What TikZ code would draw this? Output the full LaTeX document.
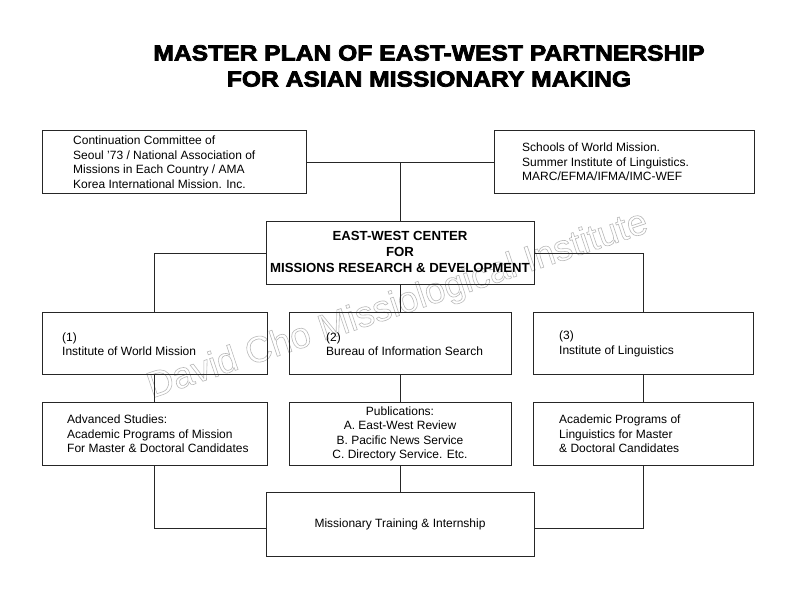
\documentclass[tikz,border=0pt]{standalone}
\usepackage{fontspec}
\setmainfont{Liberation Sans}
\newfontface\titlefont{Liberation Sans Bold}[FakeBold=3.5,FakeStretch=1.12]
\begin{document}
\begin{tikzpicture}[x=1pt,y=-1pt,
  box/.style={draw=black!85,line width=0.9pt},
  txt/.style={font=\fontsize{12}{14.5}\selectfont,align=left,anchor=west,inner sep=0pt},
  ctxt/.style={font=\fontsize{12}{14.5}\selectfont,align=center,inner sep=0pt},
  link/.style={draw=black!85,line width=0.9pt}]
\useasboundingbox (0,0) rectangle (800,600);
% watermark
\node[rotate=18.5,text=black!28,font=\fontsize{36.5}{36.5}\selectfont] (wm) at (398,306) {\special{pdf:literal direct 1 Tr 0.6 w}David Cho Missiological Institute\special{pdf:literal direct 0 Tr}};
% title
\node[font=\fontsize{22}{26}\titlefont,align=center,inner sep=0pt] (title) at (429,66) {MASTER PLAN OF EAST-WEST PARTNERSHIP\\FOR ASIAN MISSIONARY MAKING};
% boxes
\node[box,minimum width=264,minimum height=63,inner sep=0] (tl) at (174,161.5) {};
\node[box,minimum width=260,minimum height=63,inner sep=0] (tr) at (624,161.5) {};
\node[box,minimum width=268,minimum height=63,inner sep=0] (c) at (400,252.5) {};
\node[box,minimum width=225,minimum height=62,inner sep=0] (b1) at (154.5,343) {};
\node[box,minimum width=222,minimum height=62,inner sep=0] (b2) at (400,343) {};
\node[box,minimum width=220,minimum height=62,inner sep=0] (b3) at (643,343) {};
\node[box,minimum width=225,minimum height=63,inner sep=0] (d1) at (154.5,433.5) {};
\node[box,minimum width=222,minimum height=63,inner sep=0] (d2) at (400,433.5) {};
\node[box,minimum width=220,minimum height=63,inner sep=0] (d3) at (643,433.5) {};
\node[box,minimum width=268,minimum height=64,inner sep=0] (e) at (400,524) {};
% texts
\node[txt] (tlt) at (73,162) {Continuation Committee of\\Seoul '73 / National Association of\\Missions in Each Country / AMA\\Korea International Mission. Inc.};
\node[txt] (trt) at (522,162) {Schools of World Mission.\\Summer Institute of Linguistics.\\MARC/EFMA/IFMA/IMC-WEF};
\node[ctxt,font=\fontsize{13.2}{16}\selectfont\bfseries] (ct) at (400,252) {EAST-WEST CENTER\\FOR\\MISSIONS RESEARCH \& DEVELOPMENT};
\node[txt] (b1t) at (62,344) {(1)\\Institute of World Mission};
\node[txt] (b2t) at (326,344) {(2)\\Bureau of Information Search};
\node[txt] (b3t) at (559,344) {(3)\\Institute of Linguistics};
\node[txt] (d1t) at (67,434) {Advanced Studies:\\Academic Programs of Mission\\For Master \& Doctoral Candidates};
\node[ctxt] (d2t) at (400,434) {Publications:\\A. East-West Review\\B. Pacific News Service\\C. Directory Service. Etc.};
\node[txt] (d3t) at (559,434) {Academic Programs of\\Linguistics for Master\\\& Doctoral Candidates};
\node[ctxt] (et) at (400,524) {Missionary Training \& Internship};
% connectors
\coordinate (j1) at (400,162);
\draw[link] (tl.east |- j1) -- (tr.west |- j1);
\draw[link] (j1) -- (c.north);
\draw[link] (c.west |- 0,253) -| (b1.north);
\draw[link] (c.east |- 0,253) -| (b3.north);
\draw[link] (c.south) -- (b2.north);
\draw[link] (b1.south) -- (d1.north);
\draw[link] (b2.south) -- (d2.north);
\draw[link] (b3.south) -- (d3.north);
\draw[link] (d2.south) -- (e.north);
\draw[link] (d1.south) |- (e.west |- 0,528);
\draw[link] (d3.south) |- (e.east |- 0,528);
\end{tikzpicture}
\end{document}
